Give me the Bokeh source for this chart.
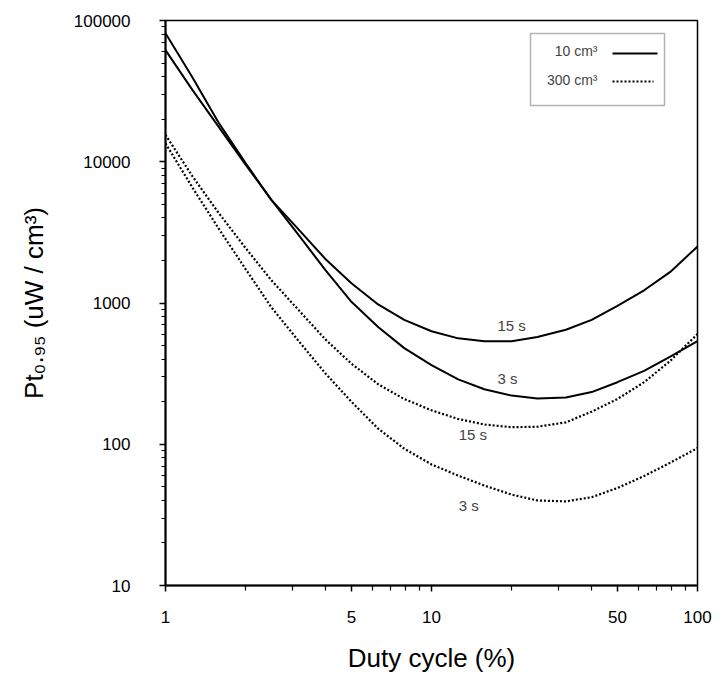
from bokeh.plotting import figure
from bokeh.models import (FixedTicker, CustomJSTickFormatter, Label, BoxAnnotation,
                          Arrow, ColumnDataSource)
from bokeh.embed import file_html
from bokeh.resources import INLINE

# ---- data ----
duty = [1, 1.26, 1.58, 2.0, 2.5, 3.2, 4.0, 5.0, 6.3, 7.9, 10,
        12.6, 15.8, 20, 25, 32, 40, 50, 63, 79, 100]
v10_3s = [81300, 39800, 19050, 9770, 5370, 2950, 1700, 1020, 676, 479, 363,
          288, 245, 221, 211, 214, 234, 275, 331, 417, 537]
v10_15s = [61700, 32400, 17800, 9550, 5370, 3240, 2040, 1380, 977, 759, 631,
           562, 537, 537, 575, 646, 759, 955, 1230, 1660, 2510]
v300_15s = [15500, 7940, 4370, 2450, 1450, 871, 550, 372, 266, 209, 174,
            151, 138, 132, 133, 143, 170, 209, 275, 389, 603]
v300_3s = [13500, 6610, 3390, 1740, 933, 525, 316, 200, 129, 93, 72,
           60, 51, 44, 40, 39.4, 42.2, 49, 59.6, 74, 94]

x_ticks = [1, 5, 10, 50, 100]
x_minor = [2, 3, 4, 6, 7, 8, 9, 20, 30, 40, 60, 70, 80, 90]
y_ticks = [10, 100, 1000, 10000, 100000]
y_minor = [m * d for d in [10, 100, 1000, 10000] for m in range(2, 10)]

curve_labels = ["15 s", "3 s", "15 s", "3 s"]
curve_label_x = [20.0, 19.3, 14.3, 13.8]
curve_label_y = [690, 290, 117, 36.8]

legend_labels = ["10 cm\u00b3", "300 cm\u00b3"]
x_title = "Duty cycle (%)"
y_title = "Pt\u2080.\u2089\u2085 (uW / cm\u00b3)"

FONT = "Liberation Sans"

p = figure(width=719, height=675, x_axis_type="log", y_axis_type="log",
           x_range=(1, 100), y_range=(10, 100000),
           output_backend="svg", toolbar_location=None,
           min_border_left=165, min_border_right=22,
           min_border_top=20, min_border_bottom=83)

p.grid.visible = False
p.outline_line_color = "black"
p.outline_line_width = 1.5
p.background_fill_color = "white"
p.border_fill_color = "white"

src = ColumnDataSource(dict(duty=duty, a=v10_3s, b=v10_15s, c=v300_15s, d=v300_3s))
p.line("duty", "a", source=src, line_color="black", line_width=2)
p.line("duty", "b", source=src, line_color="black", line_width=2)
p.line("duty", "c", source=src, line_color="black", line_width=2.2, line_dash="2 2")
p.line("duty", "d", source=src, line_color="black", line_width=2.2, line_dash="2 2")

fmt = CustomJSTickFormatter(code="return String(tick);")

xa = p.xaxis[0]
xa.ticker = FixedTicker(ticks=x_ticks, minor_ticks=x_minor)
xa.formatter = fmt
ya = p.yaxis[0]
ya.ticker = FixedTicker(ticks=y_ticks, minor_ticks=y_minor)
ya.formatter = fmt

for ax in (xa, ya):
    ax.axis_line_width = 2
    ax.axis_line_color = "black"
    ax.major_tick_in = 0
    ax.minor_tick_in = 0
    ax.major_tick_line_width = 1.5
    ax.minor_tick_line_width = 1.2
    ax.major_label_text_font = FONT
    ax.major_label_text_font_size = "17px"
    ax.major_label_text_color = "black"
    ax.axis_label_text_font = FONT
    ax.axis_label_text_font_size = "26px"
    ax.axis_label_text_font_style = "normal"
    ax.axis_label_text_color = "black"
xa.major_tick_out = 6
xa.minor_tick_out = 5
xa.major_label_standoff = 19
xa.axis_label = x_title
xa.axis_label_standoff = 17
ya.major_tick_out = 6
ya.minor_tick_out = 4
ya.major_label_standoff = 29
ya.axis_label = y_title
ya.axis_label_standoff = 22

# curve labels
for t, lx, ly in zip(curve_labels, curve_label_x, curve_label_y):
    p.add_layout(Label(x=lx, y=ly, text=t, text_font=FONT, text_font_size="15px",
                       text_align="center", text_baseline="middle"))

# legend drawn by hand (label before sample)
p.add_layout(BoxAnnotation(left=365, right=499, bottom=480, top=552,
                           left_units="screen", right_units="screen",
                           bottom_units="screen", top_units="screen",
                           fill_alpha=0, line_color="black", line_width=1.5))
p.add_layout(Label(x=432, y=535, x_units="screen", y_units="screen",
                   text=legend_labels[0], text_font=FONT, text_font_size="14px",
                   text_align="right", text_baseline="middle"))
p.add_layout(Label(x=432, y=506, x_units="screen", y_units="screen",
                   text=legend_labels[1], text_font=FONT, text_font_size="14px",
                   text_align="right", text_baseline="middle"))
p.add_layout(Arrow(x_start=447, y_start=532, x_end=492, y_end=532,
                   start_units="screen", end_units="screen", end=None,
                   line_color="black", line_width=1.8))
p.add_layout(Arrow(x_start=447, y_start=504, x_end=488, y_end=504,
                   start_units="screen", end_units="screen", end=None,
                   line_color="black", line_width=2, line_dash="2 2"))

open("out.html", "w").write(file_html(p, INLINE))
